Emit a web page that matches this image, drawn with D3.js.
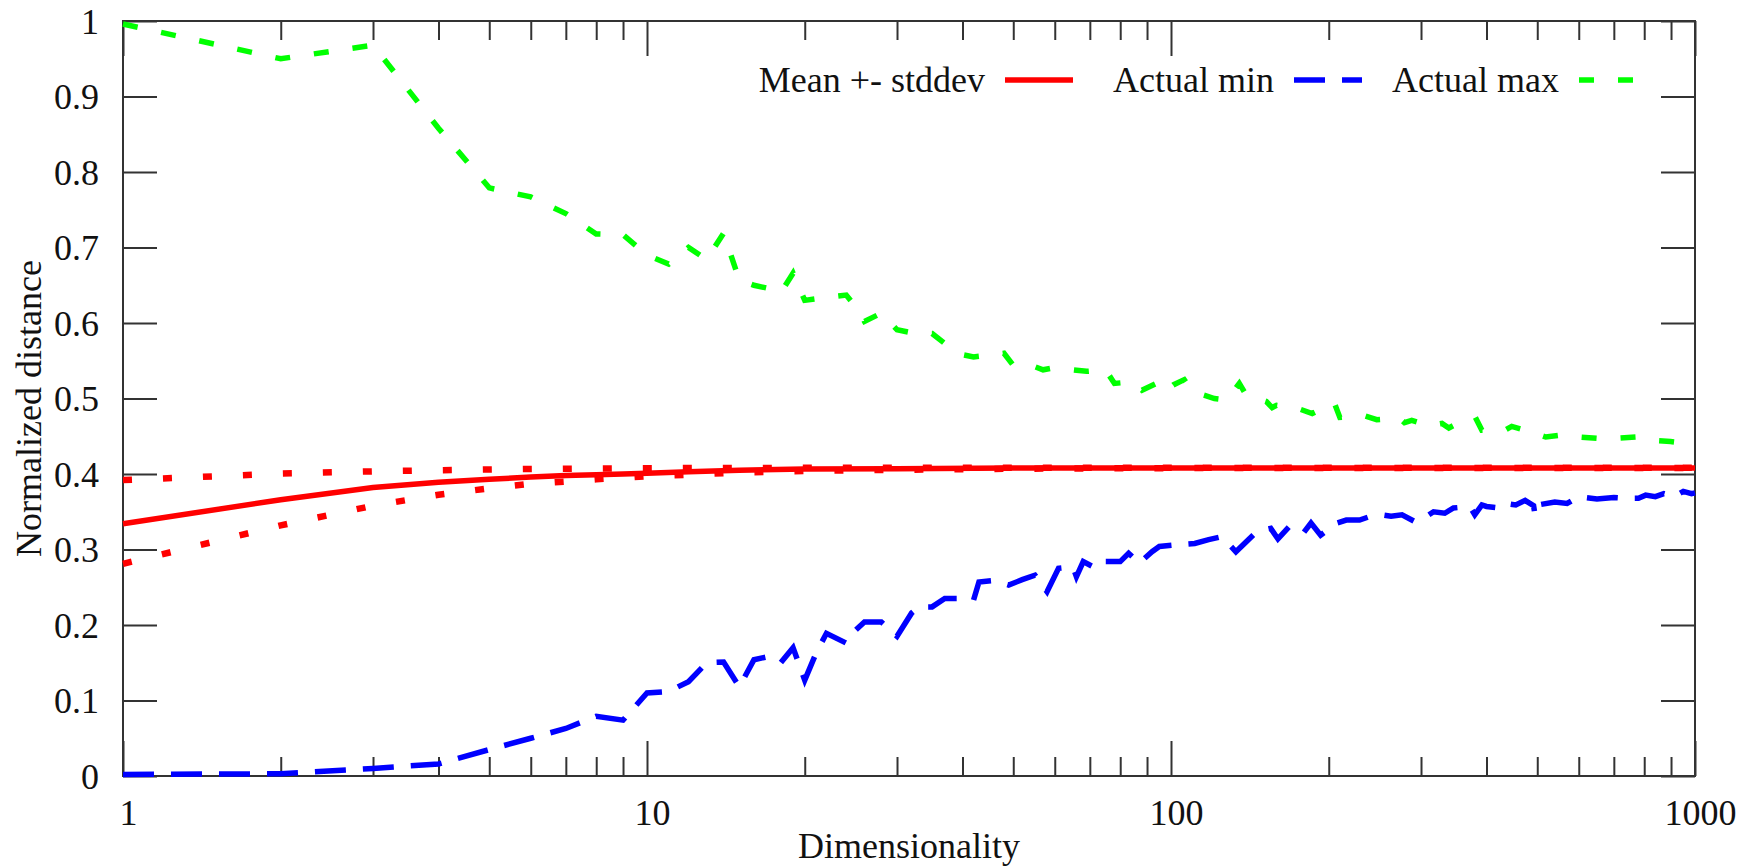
<!DOCTYPE html>
<html>
<head>
<meta charset="utf-8">
<script src="https://cdn.jsdelivr.net/npm/d3@7"></script>
<style>
  html, body { margin: 0; padding: 0; background: #fff; }
  svg { display: block; }
</style>
</head>
<body>
<svg id="chart" width="1752" height="868"></svg>
<script>
// Normalized pairwise distance vs. dimensionality (log x axis)

// Mean and +-1 stddev band, sampled at these dimensionalities
const statDims = [1, 2, 3, 4, 5, 6, 7, 8, 9, 10, 12, 15, 20, 30, 50, 100, 200, 500, 1000];
const meanValues = [0.334, 0.366, 0.382, 0.389, 0.393, 0.396, 0.398, 0.399, 0.400, 0.401, 0.403, 0.405, 0.4065, 0.407, 0.408, 0.408, 0.408, 0.408, 0.408];
const upperValues = [0.392, 0.4005, 0.4035, 0.405, 0.406, 0.4066, 0.407, 0.4073, 0.4075, 0.4077, 0.408, 0.408, 0.4082, 0.4083, 0.4083, 0.4083, 0.4083, 0.4083, 0.4083];
const lowerValues = [0.281, 0.332, 0.358, 0.3725, 0.381, 0.387, 0.390, 0.393, 0.395, 0.397, 0.399, 0.402, 0.404, 0.4055, 0.407, 0.4078, 0.408, 0.408, 0.408];

// Observed minimum distance
const minDims = [1, 2, 3, 4, 5, 6, 7, 8, 9, 10, 11, 12, 13, 14, 15, 16, 17, 18, 19, 20, 21, 22, 24, 25, 26, 28, 30, 32, 33, 35, 37, 40, 42, 43, 46, 49, 52, 55, 58, 61, 65, 66, 68, 72, 75, 80, 83, 87, 92, 95, 102, 111, 118, 125, 133, 146, 155, 160, 168, 179, 185, 193, 207, 216, 229, 238, 252, 263, 276, 292, 303, 317, 333, 346, 372, 380, 392, 400, 423, 435, 455, 474, 492, 495, 502, 540, 570, 600, 650, 700, 735, 780, 805, 840, 872, 912, 950, 985, 1000];
const minValues = [0.002, 0.003, 0.010, 0.016, 0.035, 0.050, 0.063, 0.079, 0.074, 0.110, 0.112, 0.125, 0.150, 0.151, 0.118, 0.154, 0.158, 0.150, 0.170, 0.127, 0.162, 0.189, 0.176, 0.193, 0.204, 0.204, 0.185, 0.216, 0.224, 0.224, 0.235, 0.235, 0.233, 0.257, 0.259, 0.253, 0.260, 0.266, 0.244, 0.275, 0.277, 0.264, 0.284, 0.275, 0.284, 0.284, 0.295, 0.282, 0.297, 0.304, 0.306, 0.308, 0.313, 0.317, 0.297, 0.324, 0.328, 0.314, 0.330, 0.322, 0.335, 0.319, 0.335, 0.339, 0.339, 0.343, 0.346, 0.344, 0.346, 0.337, 0.341, 0.350, 0.348, 0.355, 0.357, 0.346, 0.359, 0.357, 0.355, 0.361, 0.359, 0.365, 0.358, 0.346, 0.359, 0.363, 0.361, 0.370, 0.367, 0.369, 0.368, 0.368, 0.372, 0.370, 0.374, 0.370, 0.377, 0.374, 0.375];

// Observed maximum distance
const maxDims = [1, 2, 3, 4, 5, 6, 7, 8, 9, 10, 11, 12, 13, 14, 15, 16, 17, 18, 19, 20, 21, 22, 24, 25, 26, 28, 30, 32, 35, 37, 40, 42, 48, 50, 55, 57, 59, 65, 69, 75, 78, 84, 88, 95, 98, 101, 106, 110, 121, 128, 135, 139, 152, 156, 159, 176, 186, 205, 210, 232, 247, 273, 279, 288, 311, 329, 339, 352, 381, 392, 434, 447, 490, 519, 564, 601, 656, 694, 771, 810, 898, 950, 1000];
const maxValues = [0.996, 0.950, 0.968, 0.858, 0.779, 0.767, 0.745, 0.718, 0.717, 0.690, 0.678, 0.700, 0.684, 0.719, 0.657, 0.650, 0.646, 0.640, 0.666, 0.630, 0.632, 0.634, 0.637, 0.622, 0.602, 0.613, 0.591, 0.587, 0.586, 0.573, 0.558, 0.555, 0.560, 0.544, 0.542, 0.538, 0.540, 0.538, 0.536, 0.538, 0.520, 0.522, 0.511, 0.522, 0.511, 0.518, 0.525, 0.509, 0.500, 0.498, 0.520, 0.505, 0.496, 0.488, 0.491, 0.486, 0.480, 0.494, 0.475, 0.478, 0.472, 0.474, 0.468, 0.471, 0.464, 0.467, 0.461, 0.467, 0.475, 0.458, 0.458, 0.463, 0.455, 0.449, 0.452, 0.449, 0.447, 0.447, 0.449, 0.445, 0.443, 0.441, 0.438];

// Axis ticks
const xMajorTicks = [1, 10, 100, 1000];
const xMinorTicks = [2, 3, 4, 5, 6, 7, 8, 9, 20, 30, 40, 50, 60, 70, 80, 90, 200, 300, 400, 500, 600, 700, 800, 900];
const yTicks = [0, 0.1, 0.2, 0.3, 0.4, 0.5, 0.6, 0.7, 0.8, 0.9, 1];
const yTickLabels = ["0", "0.1", "0.2", "0.3", "0.4", "0.5", "0.6", "0.7", "0.8", "0.9", "1"];

const legendLabels = ["Mean +- stddev", "Actual min", "Actual max"];
const xTitle = "Dimensionality";
const yTitle = "Normalized distance";

// ---- layout ----
const plot = { left: 123, right: 1695, top: 21, bottom: 776 };
const FONT_FAMILY = "'Liberation Serif', 'Times New Roman', serif";
const FONT = 36;
const TEXT_COLOR = "#111";
const AXIS_COLOR = "#333";
const MAJOR_LEN = 35, MINOR_LEN = 19, Y_TICK_LEN = 34;

const svg = d3.select("#chart");
const x = d3.scaleLog().domain([1, 1000]).range([plot.left, plot.right]);
const y = d3.scaleLinear().domain([0, 1]).range([plot.bottom, plot.top]);

const zip = (xs, ys) => xs.map((d, i) => [d, ys[i]]);
const line = d3.line().x(d => x(d[0])).y(d => y(d[1]));

function serifText(sel) {
  return sel.attr("font-family", FONT_FAMILY)
    .attr("font-size", FONT)
    .attr("fill", TEXT_COLOR);
}

// ---- tick marks (inward, mirrored on top and right) ----
function styleAxis(g) {
  g.select(".domain").remove();
  g.attr("font-family", FONT_FAMILY).attr("font-size", FONT);
  g.selectAll(".tick line").attr("stroke", AXIS_COLOR).attr("stroke-width", 2);
}

svg.append("g")
  .attr("transform", `translate(0,${plot.bottom})`)
  .call(d3.axisBottom(x).tickValues(xMinorTicks).tickSizeInner(-MINOR_LEN).tickSizeOuter(0).tickFormat(""))
  .call(styleAxis);
svg.append("g")
  .attr("transform", `translate(0,${plot.top})`)
  .call(d3.axisTop(x).tickValues(xMinorTicks).tickSizeInner(-MINOR_LEN).tickSizeOuter(0).tickFormat(""))
  .call(styleAxis);
svg.append("g")
  .attr("transform", `translate(0,${plot.top})`)
  .call(d3.axisTop(x).tickValues(xMajorTicks).tickSizeInner(-MAJOR_LEN).tickSizeOuter(0).tickFormat(""))
  .call(styleAxis);

const xAxis = svg.append("g")
  .attr("transform", `translate(0,${plot.bottom})`)
  .call(d3.axisBottom(x).tickValues(xMajorTicks).tickSizeInner(-MAJOR_LEN).tickSizeOuter(0)
    .tickFormat(d3.format("d")))
  .call(styleAxis);
xAxis.selectAll(".tick text")
  .attr("y", 49).attr("dy", null).attr("x", 5)
  .call(serifText);

const yAxis = svg.append("g")
  .attr("transform", `translate(${plot.left},0)`)
  .call(d3.axisLeft(y).tickValues(yTicks).tickSizeInner(-Y_TICK_LEN).tickSizeOuter(0)
    .tickFormat((d, i) => yTickLabels[i]))
  .call(styleAxis);
yAxis.selectAll(".tick text")
  .attr("x", -24).attr("dy", null).attr("y", 12)
  .call(serifText);

svg.append("g")
  .attr("transform", `translate(${plot.right},0)`)
  .call(d3.axisRight(y).tickValues(yTicks).tickSizeInner(-Y_TICK_LEN).tickSizeOuter(0).tickFormat(""))
  .call(styleAxis);

// frame
svg.append("rect")
  .attr("x", plot.left).attr("y", plot.top)
  .attr("width", plot.right - plot.left).attr("height", plot.bottom - plot.top)
  .attr("fill", "none").attr("stroke", AXIS_COLOR).attr("stroke-width", 2);

// ---- axis titles ----
svg.append("text")
  .attr("x", (plot.left + plot.right) / 2).attr("y", 858)
  .attr("text-anchor", "middle")
  .call(serifText)
  .text(xTitle);

svg.append("text")
  .attr("transform", `translate(41,${(plot.top + plot.bottom) / 2 + 10}) rotate(-90)`)
  .attr("text-anchor", "middle")
  .call(serifText)
  .text(yTitle);

// ---- series ----
const styles = {
  mean:  { color: "#ff0000", width: 5.5, dash: null },
  band:  { color: "#ff0000", width: 6.5, dash: "9,31" },
  min:   { color: "#0000ff", width: 5.5, dash: "31,17" },
  max:   { color: "#00ff00", width: 5.5, dash: "15,24" }
};

const plotArea = svg.append("g");
function drawSeries(points, st) {
  plotArea.append("path")
    .datum(points)
    .attr("d", line)
    .attr("fill", "none")
    .attr("stroke", st.color)
    .attr("stroke-width", st.width)
    .attr("stroke-dasharray", st.dash)
    .attr("stroke-linejoin", "miter")
    .attr("stroke-linecap", "butt");
}

drawSeries(zip(statDims, meanValues), styles.mean);
drawSeries(zip(statDims, upperValues), styles.band);
drawSeries(zip(statDims, lowerValues), styles.band);
drawSeries(zip(minDims, minValues), styles.min);
drawSeries(zip(maxDims, maxValues), styles.max);

// ---- legend ----
const legendY = 80;
const legendItems = [
  { label: legendLabels[0], textRight: 985, st: styles.mean },
  { label: legendLabels[1], textRight: 1274, st: styles.min },
  { label: legendLabels[2], textRight: 1559, st: styles.max }
];
const legend = svg.append("g");
legendItems.forEach(it => {
  legend.append("text")
    .attr("x", it.textRight).attr("y", legendY + 12)
    .attr("text-anchor", "end")
    .call(serifText)
    .text(it.label);
  legend.append("line")
    .attr("x1", it.textRight + 20).attr("x2", it.textRight + 88)
    .attr("y1", legendY).attr("y2", legendY)
    .attr("stroke", it.st.color)
    .attr("stroke-width", it.st.width)
    .attr("stroke-dasharray", it.st.dash);
});
</script>
</body>
</html>
